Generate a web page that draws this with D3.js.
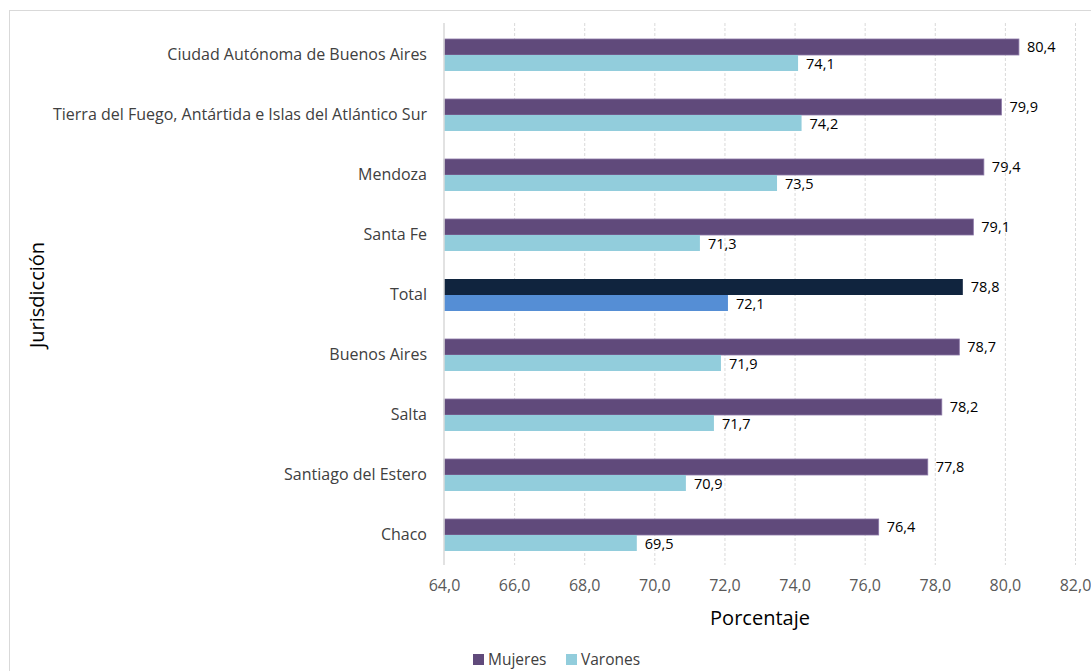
<!DOCTYPE html>
<html><head><meta charset="utf-8">
<script src="https://cdn.jsdelivr.net/npm/d3@7"></script>
<style>
html,body{margin:0;padding:0;background:#fff;}
svg{display:block;font-family:"Open Sans", sans-serif;}
</style></head>
<body>
<svg id="chart" width="1091" height="671"></svg>
<script>
const categories = ["Ciudad Autónoma de Buenos Aires","Tierra del Fuego, Antártida e Islas del Atlántico Sur","Mendoza","Santa Fe","Total","Buenos Aires","Salta","Santiago del Estero","Chaco"];
const mujeres = [80.4,79.9,79.4,79.1,78.8,78.7,78.2,77.8,76.4];
const varones = [74.1,74.2,73.5,71.3,72.1,71.9,71.7,70.9,69.5];
const xTicks = [64,66,68,70,72,74,76,78,80,82];
const seriesNames = ["Mujeres","Varones"];

const colors = {Mujeres:"#604a7b", Varones:"#92cddc"};
const totalColors = {Mujeres:"#10243e", Varones:"#558ed5"};
const FONT = "'Open Sans', sans-serif";

const svg = d3.select("#chart");
svg.append("rect").attr("x",9.5).attr("y",10.5).attr("width",1100).attr("height",700)
  .attr("fill","#fff").attr("stroke","#d9d9d9");

const x = d3.scaleLinear().domain([64,82]).range([444,1075]);
const y = d3.scaleBand().domain(categories).range([25,565]);
const barH = 16;
const fmt = v => d3.format(".1f")(v).replace(".",",");

// grid
const grid = svg.append("g");
grid.selectAll("line").data(xTicks.slice(1)).join("line")
  .attr("x1",d=>x(d)+0.5).attr("x2",d=>x(d)+0.5).attr("y1",23).attr("y2",565)
  .attr("stroke","#d9d9d9").attr("stroke-dasharray","3,2");

// bars
const rows = categories.map((c,i)=>({c, m:mujeres[i], v:varones[i]}));
const g = svg.append("g");
rows.forEach(r=>{
  const yc = y(r.c) + y.bandwidth()/2;
  const isT = r.c === "Total";
  g.append("rect").attr("x",x(64)).attr("y",yc-barH).attr("width",x(r.m)-x(64)).attr("height",barH)
    .attr("fill", isT?totalColors.Mujeres:colors.Mujeres)
    .attr("stroke", isT?"none":"#8a76a6").attr("stroke-width",0.8);
  g.append("rect").attr("x",x(64)).attr("y",yc).attr("width",x(r.v)-x(64)).attr("height",barH)
    .attr("fill", isT?totalColors.Varones:colors.Varones);
  g.append("text").attr("x",x(r.m)+8).attr("y",yc-barH/2).attr("dy","0.35em")
    .attr("font-size",14.5).attr("fill","#000").text(fmt(r.m));
  g.append("text").attr("x",x(r.v)+8).attr("y",yc+barH/2+1).attr("dy","0.35em")
    .attr("font-size",14.5).attr("fill","#000").text(fmt(r.v));
});

// axis line
svg.append("line").attr("x1",x(64)).attr("x2",x(64)).attr("y1",23).attr("y2",565)
  .attr("stroke","#d9d9d9").attr("stroke-width",1.5);

// x axis
const xAxis = svg.append("g").attr("transform","translate(0,565)")
  .call(d3.axisBottom(x).tickValues(xTicks).tickFormat(fmt).tickSize(0).tickPadding(15));
xAxis.select(".domain").remove();
xAxis.selectAll("text").attr("font-size",16).attr("fill","#595959").attr("font-family",FONT);

// y axis
const yAxis = svg.append("g").attr("transform","translate(444,0)")
  .call(d3.axisLeft(y).tickSize(0).tickPadding(17));
yAxis.select(".domain").remove();
yAxis.selectAll("text").attr("font-size",16).attr("fill","#404040").attr("font-family",FONT);

// titles
svg.append("text").attr("x",760).attr("y",618).attr("dy","0.35em").attr("text-anchor","middle")
  .attr("font-size",20).attr("fill","#000").text("Porcentaje");
svg.append("text").attr("transform","translate(37,295) rotate(-90)").attr("dy","0.35em").attr("text-anchor","middle")
  .attr("font-size",20).attr("fill","#000").text("Jurisdicción");

// legend
const leg = svg.append("g");
const legX = [473,566];
seriesNames.forEach((s,i)=>{
  leg.append("rect").attr("x",legX[i]).attr("y",654).attr("width",11).attr("height",11).attr("fill",colors[s]);
  leg.append("text").attr("x",legX[i]+15).attr("y",660).attr("dy","0.35em")
    .attr("font-size",15.5).attr("fill","#404040").text(s);
});
</script>
</body></html>
